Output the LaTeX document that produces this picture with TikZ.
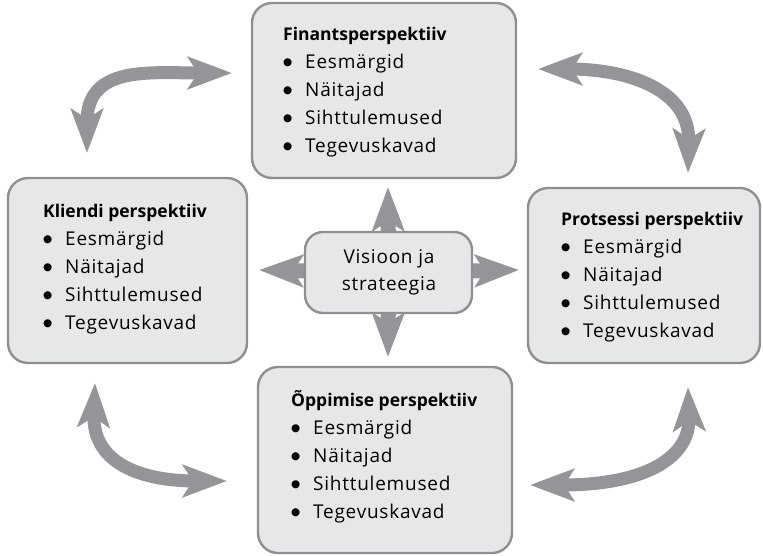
\documentclass[tikz,border=0pt]{standalone}
\usepackage{fontspec}
\setmainfont{Open Sans}
\newfontfamily\itemfont[LetterSpace=4]{Open Sans}
\newfontfamily\dotfont{DejaVu Sans}
\usetikzlibrary{arrows.meta,backgrounds,calc}

\definecolor{boxfill}{HTML}{E6E7E8}
\definecolor{boxline}{HTML}{8E8F92}
\definecolor{arrowgray}{HTML}{939598}

\tikzset{
  panel/.style={draw=boxline, line width=2.4pt, fill=boxfill,
    rounded corners=20pt, inner sep=0pt},
  heading/.style={font=\fontsize{17.5}{28}\selectfont\bfseries,
    inner sep=0pt, anchor=base west},
  item/.style={font=\itemfont\fontsize{19}{28}\selectfont,
    inner sep=0pt, anchor=base west},
  bigtip/.tip={Stealth[length=44pt, width=32pt, inset=10pt]},
  flow/.style={draw=arrowgray, line width=13pt, bigtip-bigtip},
  spoke/.style={draw=arrowgray, line width=15pt, -bigtip},
}

% bulleted line: a round dot, then the word
\newcommand{\bul}[1]{\makebox[22pt][l]{\raisebox{3.2pt}{\dotfont\fontsize{10.5}{10.5}\selectfont ●}}#1}

\begin{document}
\begin{tikzpicture}[x=1pt, y=-1pt]
  \useasboundingbox (0,0) rectangle (763,555);

  % perspective panels
  \node[panel, minimum width=264pt, minimum height=175pt] (fin) at (384,90.5) {};
  \node[panel, minimum width=239pt, minimum height=185pt] (kli) at (127.5,270.5) {};
  \node[panel, minimum width=232pt, minimum height=175pt] (pro) at (644,275.5) {};
  \node[panel, minimum width=254pt, minimum height=186pt] (opp) at (385,460) {};
  \node[panel, rounded corners=18pt, minimum width=167pt, minimum height=81pt] (vis) at (388.5,272.5) {};

  % panel texts
  \node[heading] (fin-t) at (283,40) {Finantsperspektiiv};
  \node[heading] (kli-t) at (43,217) {Kliendi perspektiiv};
  \node[heading] (pro-t) at (561,225) {Protsessi perspektiiv};
  \node[heading] (opp-t) at (291,406) {Õppimise perspektiiv};
  \foreach \p in {fin,kli,pro,opp}{
    \foreach \t [count=\i] in {Eesmärgid,Näitajad,Sihttulemused,Tegevuskavad}
      \node[item] (\p-\i) at ($(\p-t.base west)+(0,\i*28.2)$) {\bul{\t}};
  }

  \node[font=\itemfont\fontsize{19}{27}\selectfont, align=center, inner sep=0pt]
    (vis-t) at (389,272) {Visioon ja\\strateegia};

  % arrow end points
  \coordinate (fin-w) at (232,73);
  \coordinate (kli-n) at (87,153);
  \coordinate (fin-e) at (538,69);
  \coordinate (pro-n) at (688,173);
  \coordinate (kli-s) at (95,383);
  \coordinate (opp-w) at (227,481);
  \coordinate (opp-e) at (530,485);
  \coordinate (pro-s) at (688,387);
  \coordinate (up)    at (388,187);
  \coordinate (down)  at (388,357);
  \coordinate (left)  at (259,270);
  \coordinate (right) at (519,270);

  \begin{scope}[on background layer]
    % links between neighbouring perspectives
    \draw[flow] (kli-n) .. controls (87,65) and (150,73) .. (fin-w);
    \draw[flow] (fin-e) .. controls (625,69) and (690,88) .. (pro-n);
    \draw[flow] (kli-s) .. controls (92,468) and (150,481) .. (opp-w);
    \draw[flow] (opp-e) .. controls (650,485) and (690,455) .. (pro-s);
    % spokes from the centre
    \draw[spoke] (vis.center) -- (up);
    \draw[spoke] (vis.center) -- (down);
    \draw[spoke] (vis.center) -- (left);
    \draw[spoke] (vis.center) -- (right);
  \end{scope}
\end{tikzpicture}
\end{document}
